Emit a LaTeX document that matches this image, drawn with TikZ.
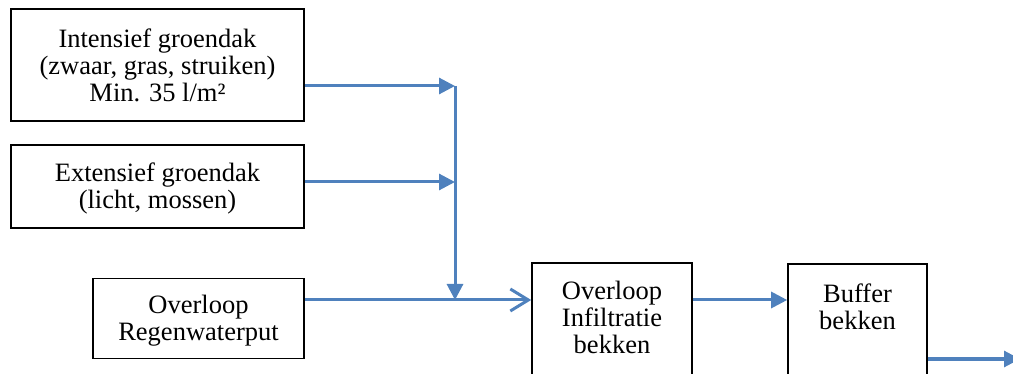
\documentclass[tikz,border=0pt]{standalone}
\usepackage{fontspec}
\setmainfont{Liberation Serif}
\usetikzlibrary{arrows.meta}
\definecolor{flow}{HTML}{4F81BD}
\begin{document}
\begin{tikzpicture}[x=1pt,y=-1pt,
  box/.style={draw=black,line width=1.6pt,inner sep=0pt,anchor=center},
  txt/.style={inner sep=0pt,align=center,font=\fontsize{26.5}{27}\selectfont},
  flowline/.style={draw=flow,line width=3pt},
  fill tip/.style={-{Triangle[length=16pt,width=16pt]}},
  open tip/.style={-{Straight Barb[length=18pt,width=22pt]}}]
\useasboundingbox (0,0) rectangle (1013,374);
\clip (0,0) rectangle (1013,374);
% boxes
\node[box,minimum width=293pt,minimum height=112pt] (b1) at (157.5,65) {};
\node[txt] (t1) at (157.5,65) {Intensief groendak\\(zwaar, gras, struiken)\\Min. 35 l/m²};
\node[box,minimum width=293pt,minimum height=83pt] (b2) at (157.5,186.5) {};
\node[txt] (t2) at (157.5,188) {Extensief groendak\\(licht, mossen)};
\node[box,minimum width=211pt,minimum height=80pt] (b3) at (198.5,318.5) {};
\node[txt] (t3) at (198.5,321) {Overloop\\Regenwaterput};
\node[box,minimum width=160pt,minimum height=124pt] (b4) at (612,325) {};
\node[txt,anchor=north] (t4) at (612,281) {Overloop\\Infiltratie\\bekken};
\node[box,minimum width=139pt,minimum height=124pt] (b5) at (857.5,326) {};
\node[txt,anchor=north] (t5) at (857.5,284) {Buffer\\bekken};
% junctions
\coordinate (j1) at (455,86);
\coordinate (j2) at (455,182);
\coordinate (j3) at (455,300);
\coordinate (out) at (1020,359);
% connectors
\draw[flowline,fill tip] (b1.east |- j1) -- (j1);
\draw[flowline,fill tip] (b2.east |- j2) -- (j2);
\draw[flowline,fill tip] (j1) -- (j3);
\draw[flowline,open tip] (b3.east |- j3) -- (b4.west |- j3);
\draw[flowline,fill tip] (b4.east |- j3) -- (b5.west |- j3);
\draw[flowline,fill tip] (b5.east |- out) -- (out);
\end{tikzpicture}
\end{document}
